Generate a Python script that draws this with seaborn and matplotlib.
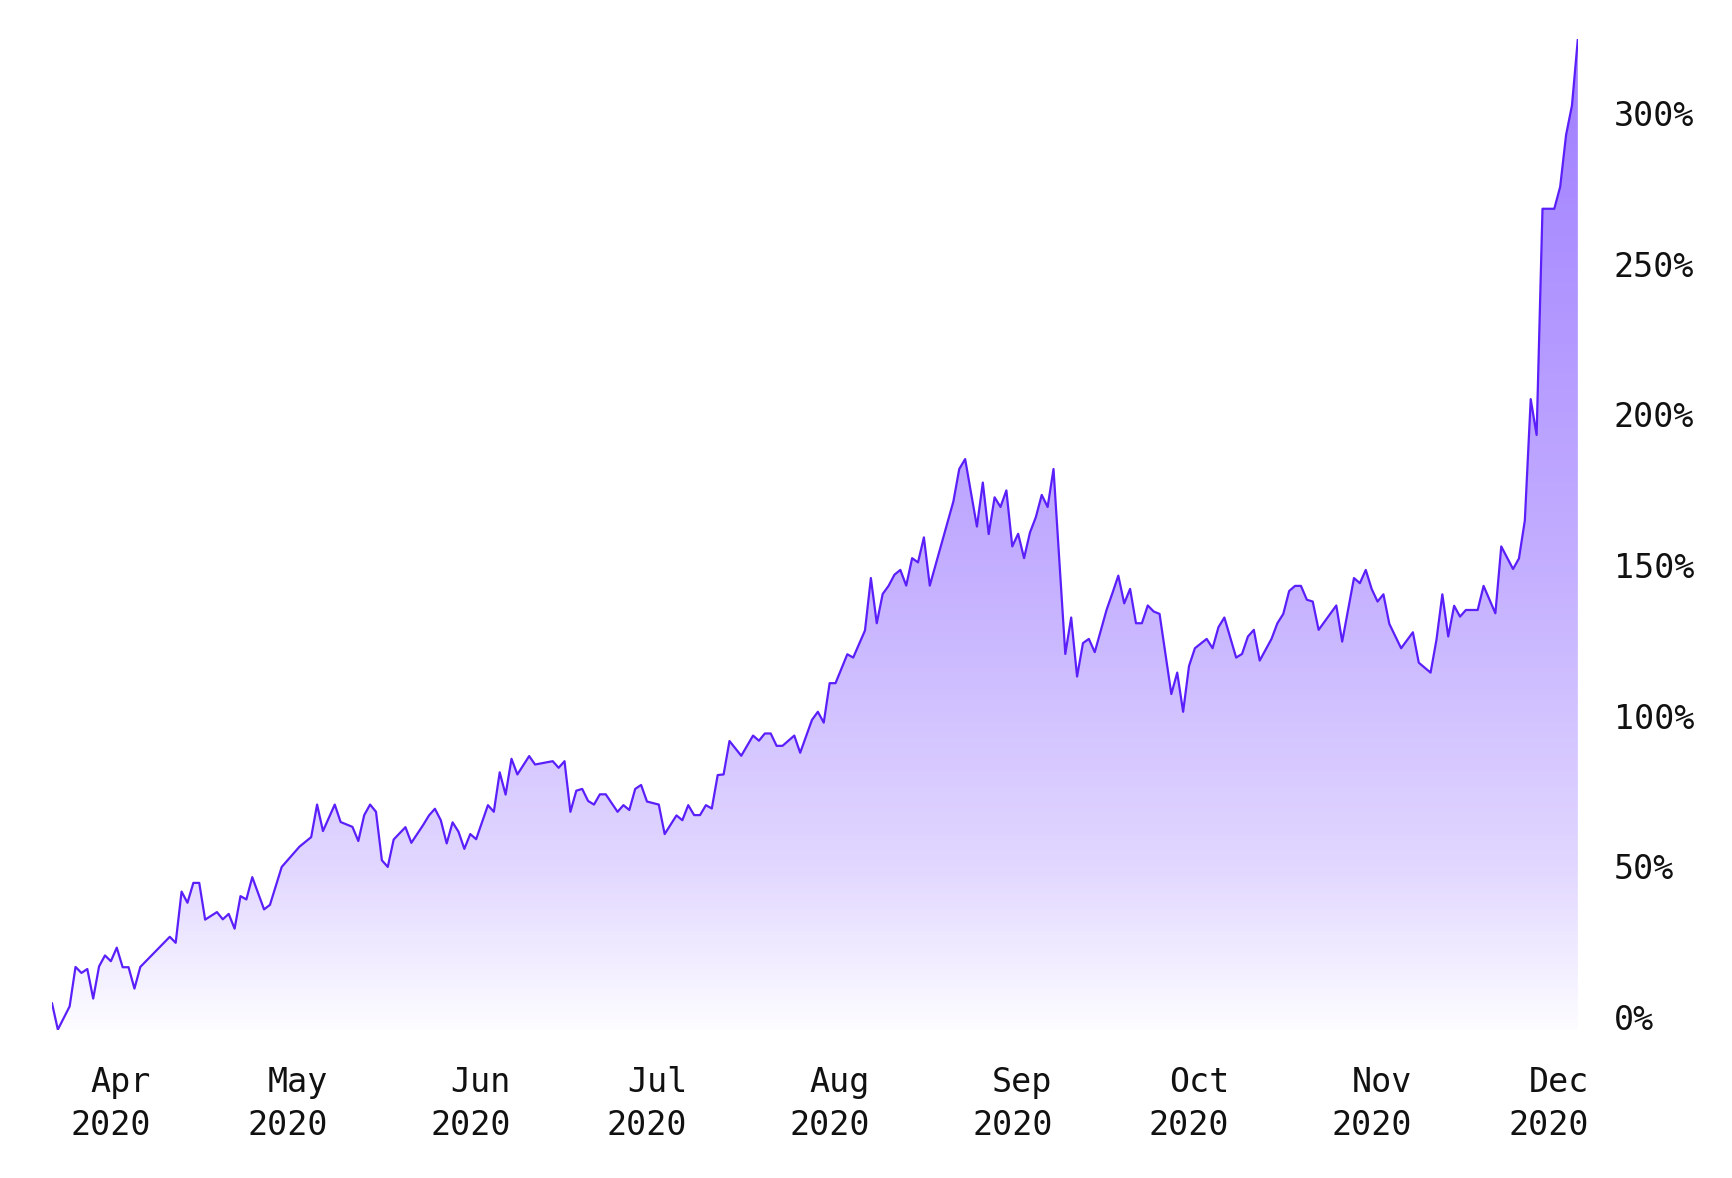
import numpy as np
import pandas as pd
import matplotlib
matplotlib.use("Agg")
import matplotlib.pyplot as plt
import matplotlib.dates as mdates
import seaborn as sns

# cumulative return (%), one entry per visible vertex
dates = [
    "2020-03-22", "2020-03-23", "2020-03-25", "2020-03-26", "2020-03-27", "2020-03-28",
    "2020-03-29", "2020-03-30", "2020-03-31", "2020-04-01", "2020-04-02", "2020-04-03",
    "2020-04-04", "2020-04-05", "2020-04-06", "2020-04-11", "2020-04-12", "2020-04-13",
    "2020-04-14", "2020-04-15", "2020-04-16", "2020-04-17", "2020-04-19", "2020-04-20",
    "2020-04-21", "2020-04-22", "2020-04-23", "2020-04-24", "2020-04-25", "2020-04-27",
    "2020-04-28", "2020-04-30", "2020-05-03", "2020-05-05", "2020-05-06", "2020-05-07",
    "2020-05-09", "2020-05-10", "2020-05-12", "2020-05-13", "2020-05-14", "2020-05-15",
    "2020-05-16", "2020-05-17", "2020-05-18", "2020-05-19", "2020-05-21", "2020-05-22",
    "2020-05-24", "2020-05-25", "2020-05-26", "2020-05-27", "2020-05-28", "2020-05-29",
    "2020-05-30", "2020-05-31", "2020-06-01", "2020-06-02", "2020-06-04", "2020-06-05",
    "2020-06-06", "2020-06-07", "2020-06-08", "2020-06-09", "2020-06-11", "2020-06-12",
    "2020-06-15", "2020-06-16", "2020-06-17", "2020-06-18", "2020-06-19", "2020-06-20",
    "2020-06-21", "2020-06-22", "2020-06-23", "2020-06-24", "2020-06-26", "2020-06-27",
    "2020-06-28", "2020-06-29", "2020-06-30", "2020-07-01", "2020-07-03", "2020-07-04",
    "2020-07-06", "2020-07-07", "2020-07-08", "2020-07-09", "2020-07-10", "2020-07-11",
    "2020-07-12", "2020-07-13", "2020-07-14", "2020-07-15", "2020-07-17", "2020-07-19",
    "2020-07-20", "2020-07-21", "2020-07-22", "2020-07-23", "2020-07-24", "2020-07-26",
    "2020-07-27", "2020-07-29", "2020-07-30", "2020-07-31", "2020-08-01", "2020-08-02",
    "2020-08-04", "2020-08-05", "2020-08-07", "2020-08-08", "2020-08-09", "2020-08-10",
    "2020-08-11", "2020-08-12", "2020-08-13", "2020-08-14", "2020-08-15", "2020-08-16",
    "2020-08-17", "2020-08-18", "2020-08-22", "2020-08-23", "2020-08-24", "2020-08-26",
    "2020-08-27", "2020-08-28", "2020-08-29", "2020-08-30", "2020-08-31", "2020-09-01",
    "2020-09-02", "2020-09-03", "2020-09-04", "2020-09-05", "2020-09-06", "2020-09-07",
    "2020-09-08", "2020-09-10", "2020-09-11", "2020-09-12", "2020-09-13", "2020-09-14",
    "2020-09-15", "2020-09-17", "2020-09-18", "2020-09-19", "2020-09-20", "2020-09-21",
    "2020-09-22", "2020-09-23", "2020-09-24", "2020-09-25", "2020-09-26", "2020-09-28",
    "2020-09-29", "2020-09-30", "2020-10-01", "2020-10-02", "2020-10-04", "2020-10-05",
    "2020-10-06", "2020-10-07", "2020-10-09", "2020-10-10", "2020-10-11", "2020-10-12",
    "2020-10-13", "2020-10-15", "2020-10-16", "2020-10-17", "2020-10-18", "2020-10-19",
    "2020-10-20", "2020-10-21", "2020-10-22", "2020-10-23", "2020-10-26", "2020-10-27",
    "2020-10-29", "2020-10-30", "2020-10-31", "2020-11-01", "2020-11-02", "2020-11-03",
    "2020-11-04", "2020-11-06", "2020-11-08", "2020-11-09", "2020-11-11", "2020-11-12",
    "2020-11-13", "2020-11-14", "2020-11-15", "2020-11-16", "2020-11-17", "2020-11-19",
    "2020-11-20", "2020-11-22", "2020-11-23", "2020-11-25", "2020-11-26", "2020-11-27",
    "2020-11-28", "2020-11-29", "2020-11-30", "2020-12-02", "2020-12-03", "2020-12-04",
    "2020-12-05", "2020-12-06",
]

returns_pct = [
    4.6, -4.2, 3.5, 16.6, 14.6, 15.9,
    6.1, 16.8, 20.4, 18.5, 23.0, 16.5,
    16.5, 9.4, 16.6, 26.6, 24.6, 41.6,
    37.9, 44.5, 44.5, 32.3, 34.8, 32.4,
    34.2, 29.3, 40.1, 39.0, 46.4, 35.7,
    37.2, 49.8, 56.5, 59.7, 70.5, 61.7,
    70.5, 64.7, 63.1, 58.4, 67.0, 70.5,
    68.1, 52.0, 49.8, 58.9, 63.0, 57.8,
    63.7, 66.9, 69.1, 65.3, 57.6, 64.6,
    61.5, 55.8, 60.7, 59.0, 70.3, 68.1,
    81.2, 73.8, 85.7, 80.5, 86.6, 83.8,
    84.9, 82.7, 84.9, 68.1, 75.1, 75.7,
    71.7, 70.5, 73.9, 73.9, 68.1, 70.3,
    68.7, 75.7, 77.0, 71.5, 70.5, 60.7,
    66.9, 65.3, 70.3, 67.0, 67.0, 70.3,
    69.2, 80.3, 80.5, 91.6, 86.7, 93.4,
    91.7, 94.1, 94.1, 90.0, 90.0, 93.4,
    87.7, 98.6, 101.3, 97.7, 110.8, 110.8,
    120.4, 119.3, 128.3, 145.7, 130.7, 140.4,
    143.1, 146.8, 148.4, 143.2, 152.3, 150.9,
    159.2, 143.2, 171.1, 181.9, 185.2, 162.8,
    177.4, 160.3, 172.5, 169.3, 174.8, 156.2,
    160.4, 152.3, 160.8, 165.9, 173.3, 169.3,
    181.9, 120.5, 132.6, 113.0, 124.1, 125.5,
    121.1, 135.1, 140.7, 146.5, 137.3, 142.1,
    130.7, 130.7, 136.6, 134.6, 133.8, 107.2,
    114.3, 101.3, 116.5, 122.4, 125.5, 122.4,
    129.4, 132.6, 119.3, 120.5, 126.3, 128.5,
    118.3, 125.5, 130.7, 133.8, 141.4, 143.1,
    143.1, 138.5, 137.9, 128.5, 136.6, 124.6,
    145.7, 144.0, 148.4, 142.1, 137.9, 140.3,
    130.5, 122.4, 127.7, 117.6, 114.3, 125.2,
    140.3, 126.3, 136.5, 132.9, 135.1, 135.1,
    143.1, 134.0, 156.2, 148.7, 152.2, 164.8,
    205.1, 193.2, 268.3, 268.3, 275.6, 292.8,
    302.6, 324.7,
]

month_ticks = ["2020-04-01", "2020-05-01", "2020-06-01", "2020-07-01", "2020-08-01",
               "2020-09-01", "2020-10-01", "2020-11-01", "2020-12-01"]
month_labels = ["Apr\n2020", "May\n2020", "Jun\n2020", "Jul\n2020", "Aug\n2020",
                "Sep\n2020", "Oct\n2020", "Nov\n2020", "Dec\n2020"]
y_ticks = [0, 50, 100, 150, 200, 250, 300]

line_color = "#5b1ffa"
fill_rgb = (0.47, 0.28, 1.0)
text_color = "#111111"

sns.set_theme(style="white")
plt.rcParams["font.family"] = ["DejaVu Sans Mono", "DejaVu Sans"]

df = pd.DataFrame({"date": pd.to_datetime(dates), "ret": returns_pct})

fig = plt.figure(figsize=(17.32, 11.78), dpi=100)
ax = fig.add_axes([0.030, 0.126, 0.881, 0.841])

ymin, ymax = df["ret"].min(), df["ret"].max()
x0 = mdates.date2num(df["date"].iloc[0])
x1 = mdates.date2num(df["date"].iloc[-1])

# area under the line, used only as a clip shape for the gradient
area = ax.fill_between(df["date"], df["ret"], ymin, facecolor="none", edgecolor="none")

levels = np.linspace(ymax, ymin, 500)
alpha = np.interp(levels, [-10, 0, 50, 150, 300, 330], [0.0, 0.03, 0.22, 0.44, 0.67, 0.72])
grad = np.zeros((500, 1, 4))
grad[..., :3] = fill_rgb
grad[..., 3] = alpha[:, None]
img = ax.imshow(grad, extent=[x0, x1, ymin, ymax], aspect="auto", origin="upper", zorder=1)
img.set_clip_path(area.get_paths()[0], transform=ax.transData)

sns.lineplot(data=df, x="date", y="ret", ax=ax, color=line_color, linewidth=1.6, zorder=3)

ax.set_xlim(x0, x1)
ax.set_ylim(ymin, ymax)
ax.set_xlabel("")
ax.set_ylabel("")

ax.set_xticks(pd.to_datetime(month_ticks))
ax.set_xticklabels(month_labels)
for lab in ax.get_xticklabels():
    lab.set_multialignment("right")
    lab.set_linespacing(1.38)

ax.yaxis.tick_right()
ax.set_yticks(y_ticks)
ax.set_yticklabels([f"{v}%" for v in y_ticks])

ax.tick_params(axis="both", length=0, labelsize=24, colors=text_color)
ax.tick_params(axis="x", pad=26)
ax.tick_params(axis="y", pad=26)
for s in ax.spines.values():
    s.set_visible(False)
ax.grid(False)

fig.savefig("out.png", dpi=100, facecolor="white")
